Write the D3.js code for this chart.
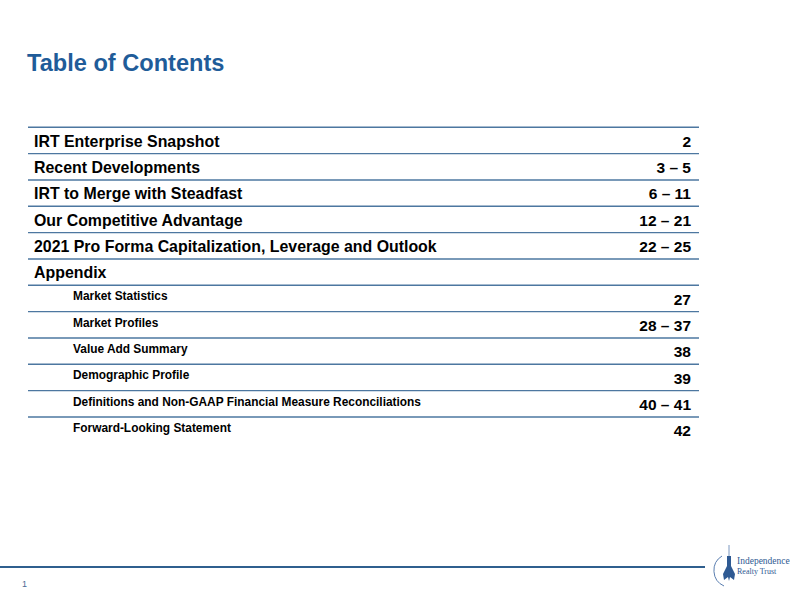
<!DOCTYPE html>
<html><head><meta charset="utf-8">
<script src="https://cdn.jsdelivr.net/npm/d3@7"></script>
<style>
html,body{margin:0;padding:0;background:#fff;}
svg{display:block;font-family:"Liberation Sans",Arial,Helvetica,sans-serif;}
</style></head>
<body>
<svg id="chart" width="793" height="596"></svg>
<script>
const sections = ["IRT Enterprise Snapshot","Recent Developments","IRT to Merge with Steadfast","Our Competitive Advantage","2021 Pro Forma Capitalization, Leverage and Outlook","Appendix","Market Statistics","Market Profiles","Value Add Summary","Demographic Profile","Definitions and Non-GAAP Financial Measure Reconciliations","Forward-Looking Statement"];
const pages = ["2","3 \u2013 5","6 \u2013 11","12 \u2013 21","22 \u2013 25","","27","28 \u2013 37","38","39","40 \u2013 41","42"];
const levels = [0,0,0,0,0,0,1,1,1,1,1,1];
const title = "Table of Contents";
const pageNumber = "1";

const svg = d3.select("#chart");
const blue = "#1F5C99";

svg.append("text").attr("x",27).attr("y",70.5).attr("fill",blue)
  .attr("font-size",23.6).attr("font-weight","bold").text(title);

const y = d3.scaleBand().domain(d3.range(sections.length)).range([127.3, 443.3]).paddingInner(0);
const x0 = 28, x1 = 699;

const rows = svg.append("g").selectAll("g").data(sections).join("g")
  .attr("transform",(d,i)=>`translate(0,${y(i)})`);

rows.append("line").attr("x1",x0).attr("x2",x1).attr("y1",0).attr("y2",0)
  .attr("stroke","#4D77A0").attr("stroke-width",1.4);

rows.append("text")
  .attr("x",(d,i)=>levels[i]?73:34)
  .attr("y",(d,i)=>levels[i]?15:19.5)
  .attr("font-size",(d,i)=>levels[i]?11.9:15.9)
  .attr("font-weight","bold").attr("fill","#000")
  .text(d=>d);

rows.append("text")
  .attr("x",691).attr("y",(d,i)=>levels[i]?19.5:19.5)
  .attr("text-anchor","end").attr("font-size",15.5)
  .attr("font-weight","bold").attr("fill","#000")
  .text((d,i)=>pages[i]);

// footer
svg.append("line").attr("x1",0).attr("x2",705).attr("y1",567).attr("y2",567)
  .attr("stroke","#2F5F8E").attr("stroke-width",2.2);
svg.append("text").attr("x",22).attr("y",587).attr("font-size",9)
  .attr("fill","#4A6A95").text(pageNumber);

// logo
const logo = svg.append("g").attr("fill","#2F5A93").attr("stroke","none");
logo.append("path").attr("d","M722,556 A17,17 0 0 0 724,586")
  .attr("fill","none").attr("stroke","#5A7EB0").attr("stroke-width",1);
logo.append("line").attr("x1",729).attr("x2",729).attr("y1",545).attr("y2",556)
  .attr("stroke","#5A7EB0").attr("stroke-width",0.8);
logo.append("path").attr("d","M727,556 L731,556 L731,566 L735,574 L734,580 L730,577 L729,581 L728,577 L724,580 L723,574 L727,566 Z");
logo.append("text").attr("x",737).attr("y",564).attr("font-family","'Liberation Serif','DejaVu Serif',serif")
  .attr("font-size",9.5).attr("fill","#2F5A93").text("Independence");
logo.append("text").attr("x",737).attr("y",574).attr("font-family","'Liberation Serif','DejaVu Serif',serif")
  .attr("font-size",8).attr("fill","#2F5A93").text("Realty Trust");
</script>
</body></html>
